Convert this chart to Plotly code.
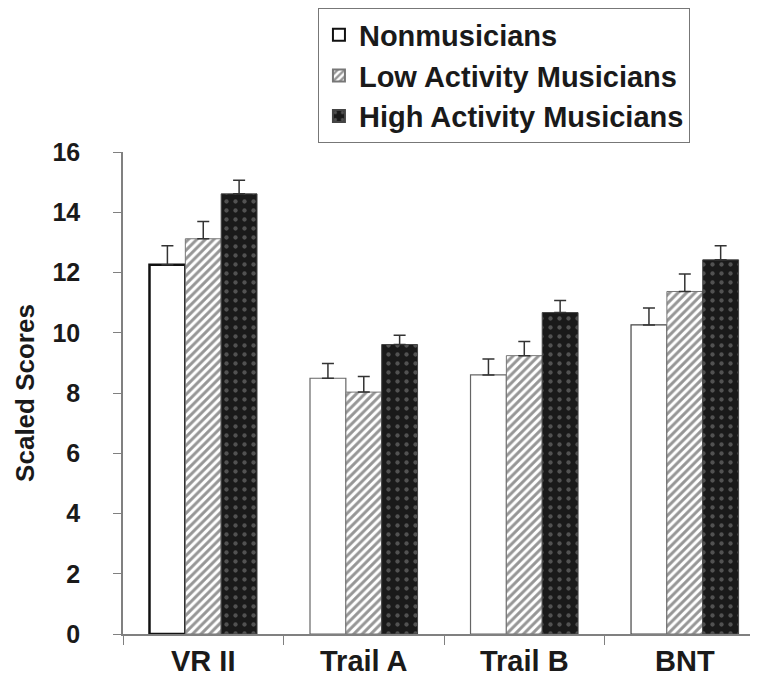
import plotly.graph_objects as go

categories = ["VR II", "Trail A", "Trail B", "BNT"]
series_names = ["Nonmusicians", "Low Activity Musicians", "High Activity Musicians"]
nonmusicians = [12.26, 8.49, 8.60, 10.26]
nonmusicians_err = [0.63, 0.49, 0.53, 0.56]
low_activity = [13.12, 8.03, 9.24, 11.37]
low_activity_err = [0.57, 0.52, 0.47, 0.58]
high_activity = [14.61, 9.61, 10.67, 12.42]
high_activity_err = [0.45, 0.31, 0.40, 0.47]
y_ticks = [0, 2, 4, 6, 8, 10, 12, 14, 16]

FONT = "Arial, 'Liberation Sans', Helvetica, sans-serif"
AXIS_GRAY = "#808080"

fig = go.Figure()

def err(vals):
    return dict(type="data", array=vals, arrayminus=[0] * len(vals), symmetric=False,
                color="#333333", thickness=1.5, width=6)

fig.add_trace(go.Bar(
    name=series_names[0], x=categories, y=nonmusicians,
    marker=dict(color="white",
                line=dict(color=["#111111", "#666666", "#666666", "#444444"],
                          width=[2.5, 1.2, 1.2, 1.2])),
    error_y=err(nonmusicians_err),
))
fig.add_trace(go.Bar(
    name=series_names[1], x=categories, y=low_activity,
    marker=dict(color="white",
                line=dict(color="#777777", width=1),
                pattern=dict(shape="/", bgcolor="white", fgcolor="#2e2e2e",
                             size=6, solidity=0.5, fillmode="overlay")),
    error_y=err(low_activity_err),
))
fig.add_trace(go.Bar(
    name=series_names[2], x=categories, y=high_activity,
    marker=dict(color="#1a1a1a",
                line=dict(color="#444444", width=1),
                pattern=dict(shape=".", bgcolor="#1a1a1a", fgcolor="#8a8a8a",
                             size=9, solidity=0.18, fillmode="overlay")),
    error_y=err(high_activity_err),
))

fig.update_layout(
    width=750, height=673,
    margin=dict(l=115, r=0, t=144, b=47),
    paper_bgcolor="white", plot_bgcolor="white",
    barmode="group", bargap=0.33, bargroupgap=0,
    font=dict(family=FONT, color="#222222", weight="bold"),
    showlegend=True,
    legend=dict(
        x=0.307, y=1.298, xanchor="left", yanchor="top",
        bordercolor="#777777", borderwidth=1, bgcolor="white",
        font=dict(size=29, family=FONT, weight="bold", color="#1a1a1a"),
        itemsizing="constant",
    ),
    xaxis=dict(
        range=[-0.5, 3.456], showline=True, linecolor=AXIS_GRAY, linewidth=1.5,
        ticks="outside", tickson="boundaries", ticklen=9, tickcolor=AXIS_GRAY,
        tickfont=dict(size=29, family=FONT, weight="bold", color="#1a1a1a"),
        showgrid=False, zeroline=False, fixedrange=True,
    ),
    yaxis=dict(
        range=[0, 16], tickvals=y_ticks, showline=True, linecolor=AXIS_GRAY, linewidth=1.5,
        ticks="outside", ticklen=8, tickcolor=AXIS_GRAY, ticklabelstandoff=28,
        tickfont=dict(size=25, family=FONT, weight="bold", color="#1a1a1a"),
        showgrid=False, zeroline=False,
        title=dict(text="Scaled Scores", standoff=10,
                   font=dict(size=26, family=FONT, weight="bold", color="#1a1a1a")),
    ),
)

fig.write_html("out.html")
